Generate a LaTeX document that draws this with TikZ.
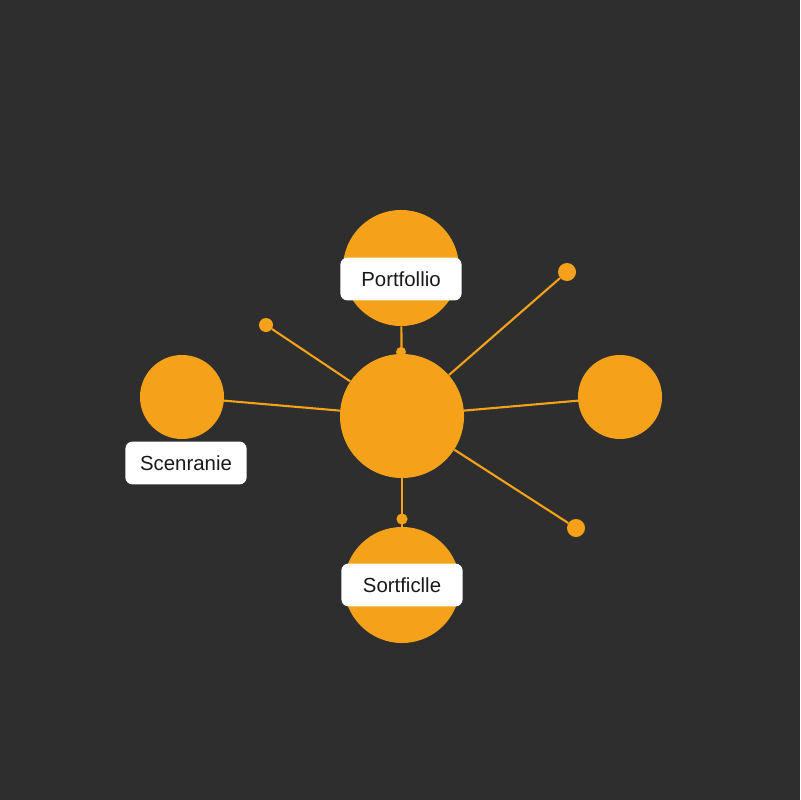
\documentclass[tikz,border=0pt]{standalone}
\usepackage{fontspec}
\setmainfont{Liberation Sans}
\definecolor{bgdark}{HTML}{2E2E2E}
\definecolor{amber}{HTML}{F5A11A}

\begin{document}
\begin{tikzpicture}[x=0.025cm,y=-0.025cm,
  hub/.style={circle,fill=amber,inner sep=0pt,minimum size=#1},
  link/.style={draw=amber,line width=1.5pt},
  tag/.style={fill=white,rounded corners=5pt,inner sep=0pt,minimum width=3.03cm,minimum height=1.07cm,
    font=\fontsize{14.5}{16}\selectfont,text=black!90}]
\fill[bgdark] (0,0) rectangle (800,800);

% connectors
\node[hub=3.1cm] (core) at (402,416) {};
\node[hub=2.9cm] (upper) at (401,268) {};
\node[hub=2.9cm] (lower) at (402,585) {};
\node[hub=2.1cm] (west) at (182,397) {};
\node[hub=2.1cm] (east) at (620,397) {};
\node[hub=0.35cm] (nw) at (266,325) {};
\node[hub=0.45cm] (ne) at (567,272) {};
\node[hub=0.45cm] (se) at (576,528) {};
\draw[link] (upper) -- (core);
\draw[link] (core) -- (lower);
\draw[link] (core) -- (west);
\draw[link] (core) -- (east);
\draw[link] (core) -- (nw);
\draw[link] (core) -- (ne);
\draw[link] (core) -- (se);
\node[hub=0.25cm] (upin) at (401,352) {};
\node[hub=0.28cm] (downin) at (402,519) {};

% labels
\node[tag] (portfolio) at (401,279) {Portfollio};
\node[tag] (scenario) at (186,463) {Scenranie};
\node[tag] (sortfile) at (402,585) {Sortficlle};

\end{tikzpicture}
\end{document}
